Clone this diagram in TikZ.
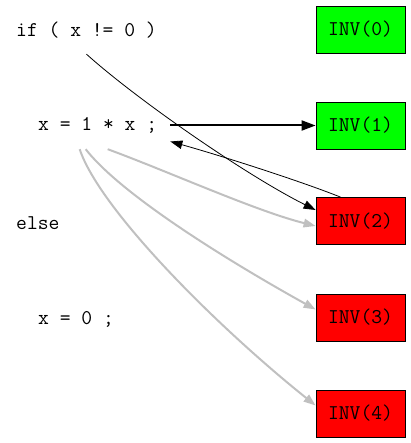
\documentclass[tikz,border=0pt]{standalone}
\usetikzlibrary{arrows.meta}

\definecolor{killgray}{RGB}{192,192,192}

\tikzset{
  code/.style={font=\ttfamily\fontsize{21}{23}\selectfont, anchor=west,
    inner xsep=13pt, inner ysep=0pt, minimum height=47pt},
  inv/.style={draw=black, line width=0.8pt, minimum width=89pt, minimum height=47pt,
    inner sep=0pt, font=\ttfamily\fontsize{21}{23}\selectfont},
  holds/.style={inv, fill=green},
  broken/.style={inv, fill=red},
  tip/.style={-{Triangle[length=12pt,width=8.5pt]}},
  dep/.style={tip, black, line width=0.8pt},
  flow/.style={-{Triangle[length=14pt,width=10pt]}, black, line width=2pt},
  kill/.style={tip, killgray, line width=2pt}
}

\begin{document}
\begin{tikzpicture}[x=1pt, y=-1pt]
    \useasboundingbox (0,0) rectangle (410,443);
    % program text
    \node[code] (ifx)    at (3,30.5)  {if ( x != 0 )};
    \node[code] (assign) at (25,125.5) {x = 1 * x ;};
    \node[code] (elsek)  at (3,223)   {else};
    \node[code] (zero)   at (25,319)  {x = 0 ;};
    % invariants
    \node[holds]  (inv0) at (360.5,29.5) {INV(0)};
    \node[holds]  (inv1) at (360.5,125.5) {INV(1)};
    \node[broken] (inv2) at (360.5,221)  {INV(2)};
    \node[broken] (inv3) at (360.5,317.5) {INV(3)};
    \node[broken] (inv4) at (360.5,413.5) {INV(4)};
    % edges
    \draw[flow] (assign.east) -- (inv1.west);
    \draw[dep] (ifx.south) .. controls +(50,45) and +(-70,-35) .. ([yshift=11pt]inv2.west);
    \draw[dep] ([xshift=-20pt]inv2.north) .. controls +(-40,-16) and +(50,14) .. ([yshift=-16pt]assign.east);
    \draw[kill] ([xshift=10pt]assign.south) .. controls +(60,22) and +(-60,-15) .. ([yshift=-5pt]inv2.west);
    \draw[kill] ([xshift=-12pt]assign.south) .. controls +(35,45) and +(-90,-50) .. ([yshift=8pt]inv3.west);
    \draw[kill] ([xshift=-18pt]assign.south) .. controls +(20,60) and +(-100,-80) .. ([yshift=8pt]inv4.west);
\end{tikzpicture}
\end{document}
